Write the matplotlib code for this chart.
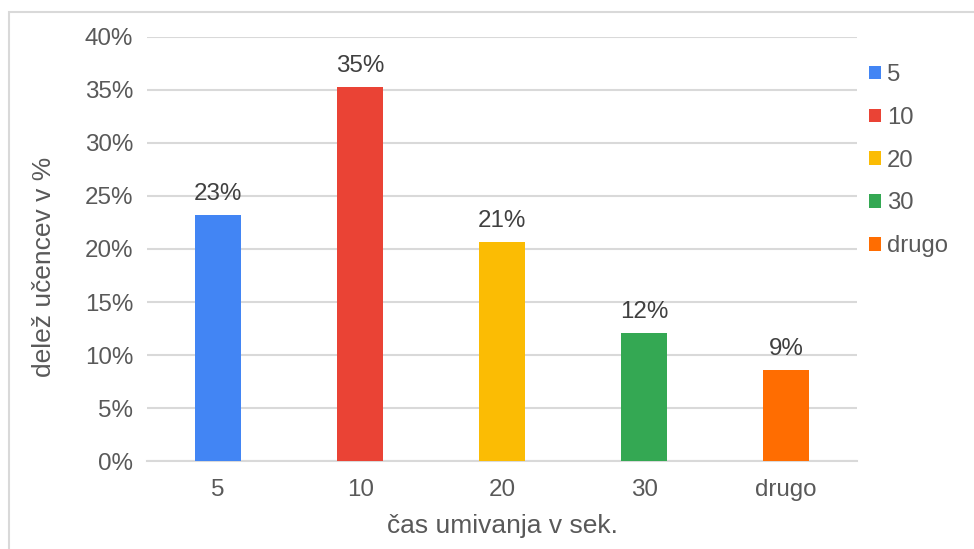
import matplotlib.pyplot as plt
from matplotlib.patches import Patch, Rectangle
from matplotlib.ticker import PercentFormatter

plt.rcParams['font.family'] = ['Liberation Sans', 'DejaVu Sans']

categories = ['5', '10', '20', '30', 'drugo']
shares = [0.232, 0.353, 0.207, 0.121, 0.086]
colors = ['#4285F4', '#EA4335', '#FBBC04', '#34A853', '#FF6D01']

fig = plt.figure(figsize=(9.74, 5.49), dpi=100)
ax = fig.add_axes([0.151, 0.160, 0.729, 0.773])

# thin frame around the whole chart
fig.patches.append(Rectangle((0.009, -0.05), 1.1, 1.029, transform=fig.transFigure,
                             fill=False, edgecolor='#D9D9D9', linewidth=1.5))

x = range(len(categories))
bars = ax.bar(x, shares, width=0.32, color=colors, zorder=3)

for b, v in zip(bars, shares):
    ax.text(b.get_x() + b.get_width() / 2, v + 0.009, f'{round(v * 100)}%',
            ha='center', va='bottom', fontsize=17.4, color='#404040')

ax.set_xlim(-0.5, len(categories) - 0.5)
ax.set_ylim(0, 0.4)
ax.set_yticks([i * 0.05 for i in range(9)])
ax.yaxis.set_major_formatter(PercentFormatter(1.0, decimals=0))
ax.set_xticks(list(x))
ax.set_xticklabels(categories)
ax.tick_params(axis='both', length=0, labelsize=17.4, labelcolor='#595959')
ax.tick_params(axis='x', pad=13)
ax.tick_params(axis='y', pad=10)

ax.grid(axis='y', color='#D9D9D9', linewidth=1.5, zorder=0)
for s in ['top', 'right', 'left']:
    ax.spines[s].set_visible(False)
ax.spines['bottom'].set_color('#D9D9D9')
ax.spines['bottom'].set_linewidth(1.5)

ax.set_xlabel('čas umivanja v sek.', fontsize=19, color='#595959', labelpad=9)
ax.set_ylabel('delež učencev v %', fontsize=19, color='#595959')
ax.yaxis.set_label_coords(-0.128, 0.458)

handles = [Patch(facecolor=c, label=l) for c, l in zip(colors, categories)]
ax.legend(handles=handles, loc='upper left', bbox_to_anchor=(0.880, 0.905),
          bbox_transform=fig.transFigure, frameon=False, fontsize=17.2,
          handlelength=0.5, handleheight=0.5, handletextpad=0.25,
          labelspacing=0.87, labelcolor='#595959', borderpad=0)

fig.savefig('out.png', dpi=100)
